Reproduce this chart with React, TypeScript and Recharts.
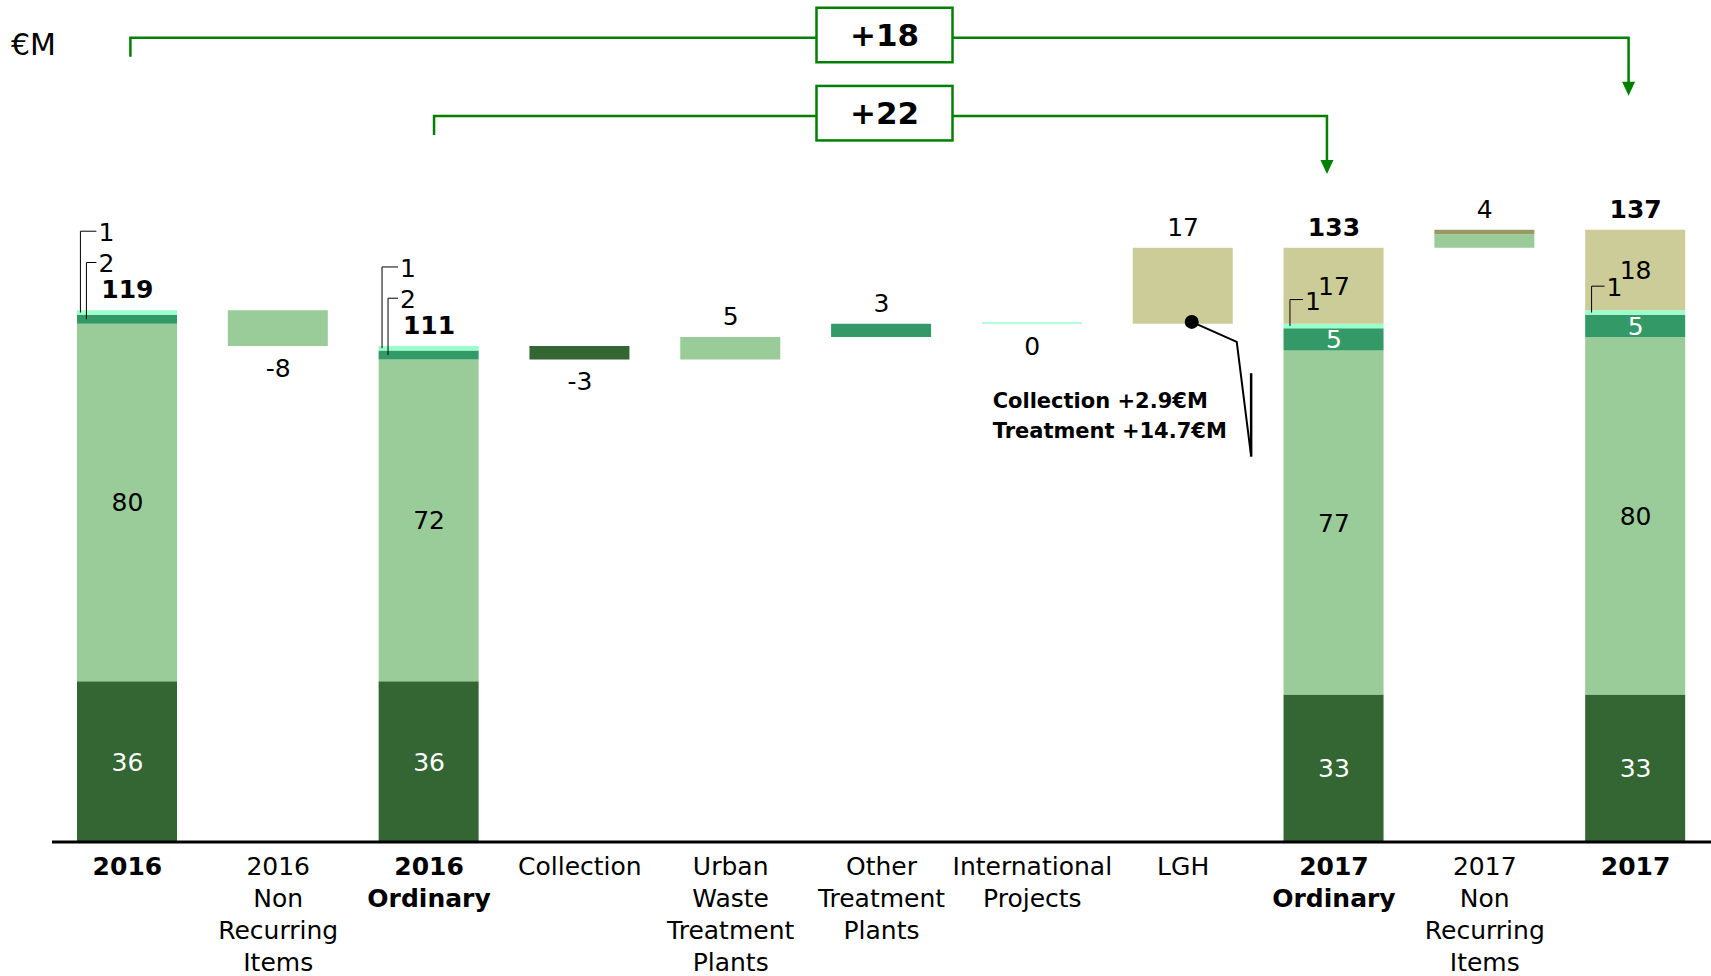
import { BarChart, Bar, XAxis, YAxis, ReferenceLine, ReferenceDot } from "recharts";

const categories = [
  "2016",
  "2016 Non Recurring Items",
  "2016 Ordinary",
  "Collection",
  "Urban Waste Treatment Plants",
  "Other Treatment Plants",
  "International Projects",
  "LGH",
  "2017 Ordinary",
  "2017 Non Recurring Items",
  "2017",
];

// full EBITDA columns vs. floating bridge steps
const isTotal = [true, false, true, false, false, false, false, false, true, false, true];
// direction of each bridge step (0 on the full columns)
const stepSign = [0, -1, 0, -1, 1, 1, 1, 1, 0, 1, 0];
// level each floating step starts from
const stepBase = [0, 111, 0, 108, 108, 113, 116, 116, 0, 133, 0];

// business lines, stacked bottom to top (€M)
const collection = [36, 0, 36, 3, 0, 0, 0, 0, 33, 0, 33];
const urbanWaste = [80, 8, 72, 0, 5, 0, 0, 0, 77, 3, 80];
const otherPlants = [2, 0, 2, 0, 0, 3, 0, 0, 5, 0, 5];
const international = [1, 0, 1, 0, 0, 0, 0.3, 0, 1, 0, 1];
const lgh = [0, 0, 0, 0, 0, 0, 0, 17, 17, 0, 18];
const lghNonRecurring = [0, 0, 0, 0, 0, 0, 0, 0, 0, 1, 0];

const lghNote = ["Collection +2.9€M", "Treatment +14.7€M"];

const FONT = '"DejaVu Sans", Verdana, sans-serif';
const GREEN = "#008000";
const BAR = 100;

const segments = [
  { key: "collection", values: collection, fill: "#336633", ink: "#ffffff" },
  { key: "urbanWaste", values: urbanWaste, fill: "#99CC99", ink: "#000000" },
  { key: "otherPlants", values: otherPlants, fill: "#339966", ink: "#ffffff" },
  { key: "international", values: international, fill: "#99FFCC", ink: "#000000" },
  { key: "lgh", values: lgh, fill: "#CCCC99", ink: "#000000" },
  { key: "lghNonRecurring", values: lghNonRecurring, fill: "#999966", ink: "#000000" },
];

const data = categories.map((name, i) => {
  const row: Record<string, number | string> = { name, base: isTotal[i] ? 0 : stepBase[i] };
  segments.forEach((s) => (row[s.key] = s.values[i]));
  return row;
});

const columnSum = (i: number) => segments.reduce((acc, s) => acc + s.values[i], 0);

// brackets comparing full columns
const bridges = [
  { from: 0, to: 10, level: 180, leftDx: 3, rightDx: -7 },
  { from: 2, to: 8, level: 162.5, leftDx: 5, rightDx: -7 },
];

const txt = (x: number, y: number, s: string | number, extra: any = {}) => (
  <text x={x} y={y} fontFamily={FONT} fontSize={25} textAnchor="middle" fill="#000" {...extra}>
    {s}
  </text>
);

const renderTick = (props: any) => {
  const { x, y, payload } = props;
  const idx = categories.indexOf(payload.value);
  const lines = String(payload.value).split(" ");
  return (
    <g>
      {lines.map((line, k) => (
        <text
          key={k}
          x={x}
          y={y + 33 + k * 32}
          textAnchor="middle"
          fontFamily={FONT}
          fontSize={25}
          fontWeight={isTotal[idx] ? "bold" : "normal"}
          fill="#000"
        >
          {line}
        </text>
      ))}
    </g>
  );
};

const bridgeShape = (label: string, leftDx: number, rightDx: number) => (p: any) => {
  const { x1, y1, x2 } = p;
  const lx = x1 + leftDx;
  const rx = x2 + rightDx;
  const mid = (x1 + x2) / 2 + 3;
  return (
    <g>
      <path d={`M${lx},${y1 + 19} V${y1} H${rx} V${y1 + 45}`} fill="none" stroke={GREEN} strokeWidth={2.5} />
      <polygon points={`${rx - 6.5},${y1 + 44} ${rx + 6.5},${y1 + 44} ${rx},${y1 + 58}`} fill={GREEN} />
      <rect x={mid - 68} y={y1 - 30} width={136} height={54.5} fill="#fff" stroke={GREEN} strokeWidth={2.5} />
      {txt(mid, y1 + 8, label, { fontSize: 31, fontWeight: "bold" })}
    </g>
  );
};

const leaderShape = (value: number, dx: number) => (p: any) => {
  const left = p.x1 - BAR / 2;
  const vx = left + dx;
  return (
    <g>
      <path d={`M${vx},${p.y1} V${p.y2} H${left + 19}`} fill="none" stroke="#000" strokeWidth={1} />
      {txt(left + 21, p.y2 + 10, value, { textAnchor: "start" })}
    </g>
  );
};

const lghNoteShape = (p: any) => {
  const { cx, cy } = p;
  return (
    <g>
      <polyline
        points={`${cx + 8.6},${cy - 1.8} ${cx + 53.6},${cy + 18.2} ${cx + 67.6},${cy + 129.5}`}
        fill="none"
        stroke="#000"
        strokeWidth={2}
      />
      <circle cx={cx + 8.6} cy={cy - 1.8} r={7} fill="#000" />
      <line x1={cx + 68} y1={cy + 49.5} x2={cx + 68} y2={cy + 133} stroke="#000" strokeWidth={2.5} />
      {lghNote.map((line, k) =>
        txt(cx - 190.5, cy + 84.5 + k * 30, line, { key: k, textAnchor: "start", fontSize: 21, fontWeight: "bold" })
      )}
    </g>
  );
};

const labelDots: any[] = [];
const leaderLines: any[] = [];

categories.forEach((cat, i) => {
  const sum = columnSum(i);
  if (isTotal[i]) {
    labelDots.push(
      <ReferenceDot
        key={`t${i}`}
        x={cat}
        y={sum}
        r={0}
        shape={(p: any) => txt(p.cx, p.cy - 12, Math.round(sum), { fontWeight: "bold" })}
      />
    );
    let cum = 0;
    const small: { value: number; mid: number; top: number }[] = [];
    segments.forEach((s) => {
      const v = s.values[i];
      if (v >= 5) {
        labelDots.push(
          <ReferenceDot
            key={`s${i}${s.key}`}
            x={cat}
            y={cum + v / 2}
            r={0}
            shape={(p: any) => txt(p.cx, p.cy + 9, v, { fill: s.ink })}
          />
        );
      } else if (v > 0) {
        small.push({ value: v, mid: cum + v / 2, top: cum + v });
      }
      cum += v;
    });
    const capped = lgh[i] > 0;
    small.reverse().forEach((s, k) => {
      const level = capped ? s.top + 5.4 : sum + 17.7 - 7 * k;
      const dx = capped ? 6 : 3 + 6 * k;
      leaderLines.push(
        <ReferenceLine
          key={`l${i}${k}`}
          segment={[
            { x: cat, y: s.mid },
            { x: cat, y: level },
          ]}
          shape={leaderShape(s.value, dx)}
        />
      );
    });
  } else {
    const signed = stepSign[i] * Math.round(sum) || 0;
    if (signed > 0) {
      labelDots.push(
        <ReferenceDot key={`d${i}`} x={cat} y={stepBase[i] + sum} r={0} shape={(p: any) => txt(p.cx, p.cy - 12, signed)} />
      );
    } else {
      labelDots.push(
        <ReferenceDot key={`d${i}`} x={cat} y={stepBase[i]} r={0} shape={(p: any) => txt(p.cx, p.cy + 31, signed)} />
      );
    }
  }
});

export default function App() {
  return (
    <div
      style={{
        position: "absolute",
        left: 0,
        top: 0,
        width: 1711,
        height: 976,
        background: "#fff",
        fontFamily: FONT,
      }}
    >
      <BarChart
        width={1711}
        height={976}
        data={data}
        barSize={BAR}
        margin={{ top: 2, right: 0, left: 52, bottom: 4 }}
      >
        <XAxis
          dataKey="name"
          interval={0}
          tickLine={false}
          tickSize={0}
          tickMargin={0}
          height={130}
          axisLine={{ stroke: "#000", strokeWidth: 3 }}
          tick={renderTick}
        />
        <YAxis hide width={0} type="number" domain={[0, 188]} allowDataOverflow />
        <Bar dataKey="base" stackId="a" fill="transparent" isAnimationActive={false} />
        {segments.map((s) => (
          <Bar key={s.key} dataKey={s.key} stackId="a" fill={s.fill} isAnimationActive={false} />
        ))}
        {bridges.map((b) => (
          <ReferenceLine
            key={b.from}
            segment={[
              { x: categories[b.from], y: b.level },
              { x: categories[b.to], y: b.level },
            ]}
            shape={bridgeShape(`+${columnSum(b.to) - columnSum(b.from)}`, b.leftDx, b.rightDx)}
          />
        ))}
        {leaderLines}
        {labelDots}
        <ReferenceDot x="LGH" y={stepBase[7]} r={0} shape={lghNoteShape} />
      </BarChart>
      <svg style={{ position: "absolute", left: 0, top: 0 }} width={120} height={80}>
        <text x={11} y={55} fontFamily={FONT} fontSize={30} fill="#000">
          €M
        </text>
      </svg>
    </div>
  );
}
